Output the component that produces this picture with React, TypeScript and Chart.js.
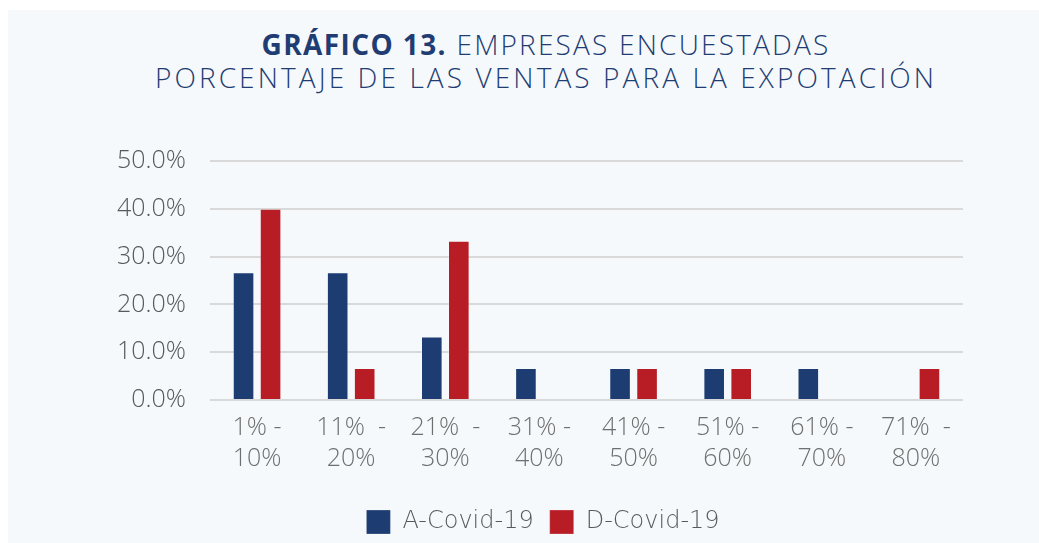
import React, { useEffect, useRef } from "react";
import { Chart, registerables } from "chart.js";

Chart.register(...registerables);

const categories: string[][] = [
  ["1% -", "10%"],
  ["11%  -", "20%"],
  ["21%  -", "30%"],
  ["31% -", "40%"],
  ["41% -", "50%"],
  ["51% -", "60%"],
  ["61% -", "70%"],
  ["71%  -", "80%"],
];
const antesCovid = [26.7, 26.7, 13.3, 6.7, 6.7, 6.7, 6.7, 0];
const despuesCovid = [40.0, 6.7, 33.3, 0, 6.7, 6.7, 0, 6.7];
const seriesNames = ["A-Covid-19", "D-Covid-19"];
const yMin = 0;
const yMax = 50;
const yStep = 10;

const SANS = "'Open Sans', 'DejaVu Sans', sans-serif";
const WIDE = "'DejaVu Sans', 'Open Sans', sans-serif";

const legendShift = {
  id: "legendShift",
  afterLayout(chart: any) {
    const l = chart.legend;
    if (!l) return;
    const desired = 535;
    const dx = desired - (l.left + l.right) / 2;
    l.left += dx;
    l.right += dx;
  },
};

export default function App() {
  const ref = useRef<HTMLCanvasElement | null>(null);

  useEffect(() => {
    if (!ref.current) return;
    const chart = new Chart(ref.current, {
      type: "bar",
      data: {
        labels: categories,
        datasets: [
          {
            label: seriesNames[0],
            data: antesCovid,
            backgroundColor: "#1d3c72",
            borderColor: "rgba(255,255,255,0.25)",
            borderWidth: 1,
            categoryPercentage: 0.574,
            barPercentage: 0.8,
          },
          {
            label: seriesNames[1],
            data: despuesCovid,
            backgroundColor: "#b81c25",
            borderColor: "rgba(255,255,255,0.25)",
            borderWidth: 1,
            categoryPercentage: 0.574,
            barPercentage: 0.8,
          },
        ],
      },
      plugins: [legendShift],
      options: {
        animation: false,
        responsive: false,
        maintainAspectRatio: false,
        layout: { padding: { top: 61, left: 92, right: 76, bottom: 6 } },
        plugins: {
          title: { display: false },
          tooltip: { enabled: false },
          legend: {
            position: "bottom",
            labels: {
              boxWidth: 24,
              boxHeight: 24,
              padding: 16,
              color: "#595959",
              font: { family: WIDE, size: 24, weight: "200" as any },
            },
          },
        },
        scales: {
          x: {
            grid: { display: false, drawTicks: false },
            border: { display: false },
            ticks: {
              color: "#6f6f6f",
              padding: 12,
              maxRotation: 0,
              autoSkip: false,
              font: { family: SANS, size: 25, weight: "300" as any, lineHeight: 1.24 },
            },
            afterFit: (s: any) => {
              s.height = 94;
            },
          },
          y: {
            min: yMin,
            max: yMax,
            grid: { color: "#d9d9d9", lineWidth: 2, drawTicks: false },
            border: { display: false },
            ticks: {
              stepSize: yStep,
              color: "#595959",
              padding: 24,
              font: { family: SANS, size: 25, weight: "300" as any },
              callback: (v: any) => Number(v).toFixed(1) + "%",
            },
            afterFit: (s: any) => {
              s.width = 110;
            },
          },
        },
      },
    });
    return () => chart.destroy();
  }, []);

  return (
    <div
      style={{
        position: "fixed",
        left: 8,
        top: 10,
        width: 1031,
        height: 533,
        background: "#f5f9fc",
        overflow: "hidden",
      }}
    >
      <div
        style={{
          position: "absolute",
          left: 0,
          top: 18,
          width: 1031,
          paddingLeft: 45,
          boxSizing: "border-box",
          textAlign: "center",
          color: "#1f3d73",
          fontFamily: SANS,
          fontSize: 28,
          lineHeight: "33px",
          fontWeight: 300,
        }}
      >
        <div style={{ letterSpacing: "2.2px" }}>
          <span style={{ fontWeight: 700, letterSpacing: "1.4px" }}>GRÁFICO 13.</span> EMPRESAS ENCUESTADAS
        </div>
        <div style={{ letterSpacing: "3.1px" }}>PORCENTAJE DE LAS VENTAS PARA LA EXPOTACIÓN</div>
      </div>
      <canvas
        ref={ref}
        width={1031}
        height={450}
        style={{ position: "absolute", left: 0, top: 90, width: 1031, height: 450 }}
      />
    </div>
  );
}
